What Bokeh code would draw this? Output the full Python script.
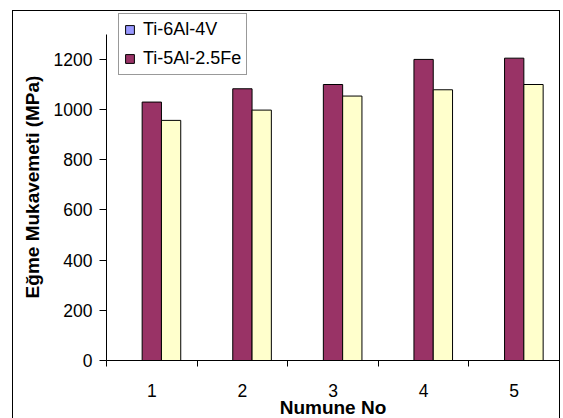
from bokeh.plotting import figure
from bokeh.models import (ColumnDataSource, Range1d, FixedTicker, Legend, LegendItem)
from bokeh.transform import dodge
from bokeh.embed import file_html
from bokeh.resources import INLINE

# ---- data ----
samples = ["1", "2", "3", "4", "5"]
ti6al_4v = [float("nan")] * 5                  # legend-only series, no bars drawn
ti5al_25fe = [1030, 1083, 1100, 1200, 1205]   # maroon bars
third_series = [957, 998, 1054, 1079, 1100]    # light yellow bars
y_ticks = [0, 200, 400, 600, 800, 1000, 1200]
y_axis_max = 1300
legend_labels = ["Ti-6Al-4V", "Ti-5Al-2.5Fe"]
x_title = "Numune No"
y_title = "Eğme Mukavemeti (MPa)"

FONT = "Liberation Sans"
BAR_W = 0.213

xs = [i + 1 for i in range(len(samples))]
src = ColumnDataSource(dict(x=xs, c=ti6al_4v, a=ti5al_25fe, b=third_series))

# canvas starts at about (13, 11) inside a CSS border
p = figure(width=548, height=420, output_backend="svg", toolbar_location=None,
           x_range=Range1d(0.5, 5.5), y_range=Range1d(0, 1383),
           min_border_left=93, min_border_right=2, min_border_top=2,
           min_border_bottom=71)
p.margin = (10, 0, 0, 12)
p.styles = {"border-left": "1px solid black", "border-top": "1px solid black",
            "border-right": "1px solid black"}
p.outline_line_color = None
p.background_fill_color = "white"
p.border_fill_color = "white"
p.grid.visible = False

r_lav = p.vbar(x=dodge("x", -BAR_W), top="c", width=BAR_W, source=src,
               fill_color="#9999FF", line_color="black", line_width=1)
r_mar = p.vbar(x="x", top="a", width=BAR_W, source=src,
               fill_color="#993366", line_color="black", line_width=1)
r_yel = p.vbar(x=dodge("x", BAR_W), top="b", width=BAR_W, source=src,
               fill_color="#FFFFCC", line_color="black", line_width=1)

# axes
xa = p.xaxis[0]
xa.ticker = FixedTicker(ticks=xs, minor_ticks=[x - 0.5 for x in xs] + [xs[-1] + 0.5])
xa.major_label_overrides = {float(x): s for x, s in zip(xs, samples)}
xa.major_tick_out = 0
xa.major_tick_in = 0
xa.minor_tick_out = 6
xa.minor_tick_in = 0
xa.major_label_standoff = 17
xa.axis_label = x_title
xa.axis_label_standoff = -3
ya = p.yaxis[0]
ya.ticker = FixedTicker(ticks=y_ticks)
ya.bounds = (0, y_axis_max)
ya.major_tick_out = 7
ya.major_tick_in = 0
ya.minor_tick_out = 0
ya.minor_tick_in = 0
ya.major_label_standoff = 7
ya.axis_label = y_title
ya.axis_label_standoff = 8
for ax in (xa, ya):
    ax.axis_line_color = "black"
    ax.major_tick_line_color = "black"
    ax.minor_tick_line_color = "black"
    ax.major_label_text_font = FONT
    ax.major_label_text_font_size = "17.5px"
    ax.major_label_text_color = "black"
    ax.axis_label_text_font = FONT
    ax.axis_label_text_font_size = "19px"
    ax.axis_label_text_font_style = "bold"
    ax.axis_label_text_color = "black"

legend = Legend(items=[LegendItem(label=legend_labels[0], renderers=[r_lav]),
                       LegendItem(label=legend_labels[1], renderers=[r_mar])],
                location=(12, 285))
legend.glyph_width = 11
legend.glyph_height = 11
legend.label_standoff = 8
legend.padding = 5
legend.spacing = 8
legend.margin = 0
legend.label_text_font = FONT
legend.label_text_font_size = "18px"
legend.label_text_color = "black"
legend.border_line_color = "#333333"
legend.border_line_width = 1
legend.background_fill_color = "white"
legend.background_fill_alpha = 1
p.add_layout(legend, "center")

open("out.html", "w").write(file_html(p, INLINE))
